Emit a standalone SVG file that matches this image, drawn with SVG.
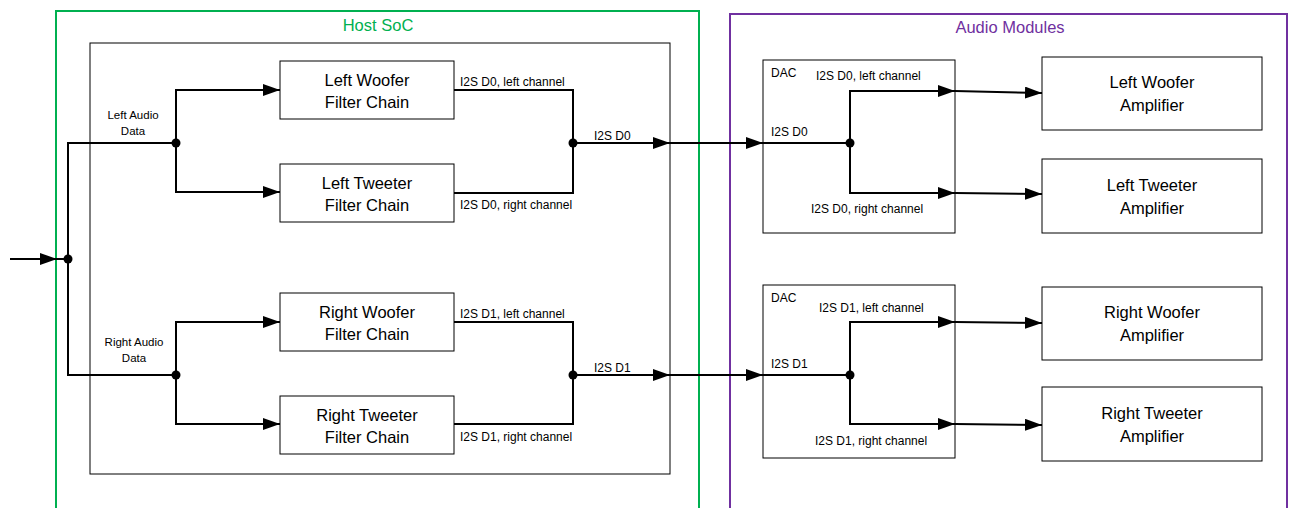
<svg xmlns="http://www.w3.org/2000/svg" width="1294" height="508" viewBox="0 0 1294 508">
<style>
text{font-family:"Liberation Sans",Arial,sans-serif;fill:#000}
.box{fill:#fff;stroke:#000;stroke-width:1}
.frame{fill:none;stroke:#000;stroke-width:1}
.t{font-size:16.5px;text-anchor:middle}
.s{font-size:12px}
.sc{font-size:11.5px;text-anchor:middle}
.w{fill:none;stroke:#000;stroke-width:2}
.a{fill:none;stroke:#000;stroke-width:2;marker-end:url(#ah)}
.dot{fill:#000}
</style>
<defs>
<marker id="ah" markerUnits="userSpaceOnUse" markerWidth="18" markerHeight="12" refX="17" refY="6" orient="auto">
<path d="M0,0 L17,6 L0,12 Z" fill="#000"/>
</marker>
</defs>
<g id="host-soc">
<rect x="56" y="11" width="643" height="510" fill="none" stroke="#00B050" stroke-width="2"/>
<text x="378" y="31" font-size="16.5" text-anchor="middle" style="fill:#00B050">Host SoC</text>
</g>
<g id="audio-modules">
<rect x="730" y="14" width="557" height="510" fill="none" stroke="#7030A0" stroke-width="2"/>
<text x="1010" y="33" font-size="16.5" text-anchor="middle" style="fill:#7030A0">Audio Modules</text>
</g>
<g id="soc-inner"><rect class="frame" x="90" y="43" width="580" height="431"/></g>
<g id="lw-filter"><rect class="box" x="280" y="61" width="174" height="58"/><text class="t" x="367" y="86">Left Woofer</text><text class="t" x="367" y="108">Filter Chain</text></g>
<g id="lt-filter"><rect class="box" x="280" y="164" width="174" height="58"/><text class="t" x="367" y="189">Left Tweeter</text><text class="t" x="367" y="211">Filter Chain</text></g>
<g id="rw-filter"><rect class="box" x="280" y="293" width="174" height="58"/><text class="t" x="367" y="318">Right Woofer</text><text class="t" x="367" y="340">Filter Chain</text></g>
<g id="rt-filter"><rect class="box" x="280" y="396" width="174" height="58"/><text class="t" x="367" y="421">Right Tweeter</text><text class="t" x="367" y="443">Filter Chain</text></g>
<g id="dac0"><rect class="box" x="763" y="60" width="192" height="173"/><text class="s" x="771" y="77">DAC</text></g>
<g id="dac1"><rect class="box" x="763" y="285" width="192" height="173"/><text class="s" x="771" y="302">DAC</text></g>
<g id="lw-amp"><rect class="box" x="1042" y="57" width="220" height="73"/><text class="t" x="1152" y="88">Left Woofer</text><text class="t" x="1152" y="111">Amplifier</text></g>
<g id="lt-amp"><rect class="box" x="1042" y="159" width="220" height="74"/><text class="t" x="1152" y="191">Left Tweeter</text><text class="t" x="1152" y="214">Amplifier</text></g>
<g id="rw-amp"><rect class="box" x="1042" y="287" width="220" height="73"/><text class="t" x="1152" y="318">Right Woofer</text><text class="t" x="1152" y="341">Amplifier</text></g>
<g id="rt-amp"><rect class="box" x="1042" y="387" width="220" height="74"/><text class="t" x="1152" y="419">Right Tweeter</text><text class="t" x="1152" y="442">Amplifier</text></g>
<g id="connectors">
<path class="a" d="M10,259 H57"/>
<path class="w" d="M57,259 H68 M176,143 H68 V375 H176"/>
<path class="a" d="M176,143 V90 H280"/>
<path class="a" d="M176,143 V192 H280"/>
<path class="a" d="M176,375 V322 H280"/>
<path class="a" d="M176,375 V424 H280"/>
<path class="w" d="M454,90 H573 V193 H454"/>
<path class="w" d="M454,322 H573 V424 H454"/>
<path class="a" d="M573,143 H670"/>
<path class="a" d="M670,143 H763"/>
<path class="a" d="M573,375 H670"/>
<path class="a" d="M670,375 H763"/>
<path class="w" d="M763,143 H850"/>
<path class="a" d="M850,143 V91 H955"/>
<path class="a" d="M850,143 V193 H955"/>
<path class="a" d="M955,91 L1042,93"/>
<path class="a" d="M955,193 L1042,194"/>
<path class="w" d="M763,375 H850"/>
<path class="a" d="M850,375 V322 H955"/>
<path class="a" d="M850,375 V424 H955"/>
<path class="a" d="M955,322 L1042,323"/>
<path class="a" d="M955,424 L1042,425"/>
<circle class="dot" cx="68" cy="259" r="4.5"/>
<circle class="dot" cx="176" cy="143" r="4.5"/>
<circle class="dot" cx="176" cy="375" r="4.5"/>
<circle class="dot" cx="573" cy="143" r="4.5"/>
<circle class="dot" cx="573" cy="375" r="4.5"/>
<circle class="dot" cx="850" cy="143" r="4.5"/>
<circle class="dot" cx="850" cy="375" r="4.5"/>
</g>
<g id="labels">
<text class="sc" x="133" y="119">Left Audio</text>
<text class="sc" x="133" y="135">Data</text>
<text class="sc" x="134" y="346">Right Audio</text>
<text class="sc" x="134" y="362">Data</text>
<text class="s" x="460" y="86">I2S D0, left channel</text>
<text class="s" x="460" y="209">I2S D0, right channel</text>
<text class="s" x="594" y="140">I2S D0</text>
<text class="s" x="460" y="318">I2S D1, left channel</text>
<text class="s" x="460" y="441">I2S D1, right channel</text>
<text class="s" x="594" y="372">I2S D1</text>
<text class="s" x="771" y="136">I2S D0</text>
<text class="s" x="816" y="80">I2S D0, left channel</text>
<text class="s" x="811" y="213">I2S D0, right channel</text>
<text class="s" x="771" y="368">I2S D1</text>
<text class="s" x="819" y="312">I2S D1, left channel</text>
<text class="s" x="815" y="445">I2S D1, right channel</text>
</g>
</svg>
